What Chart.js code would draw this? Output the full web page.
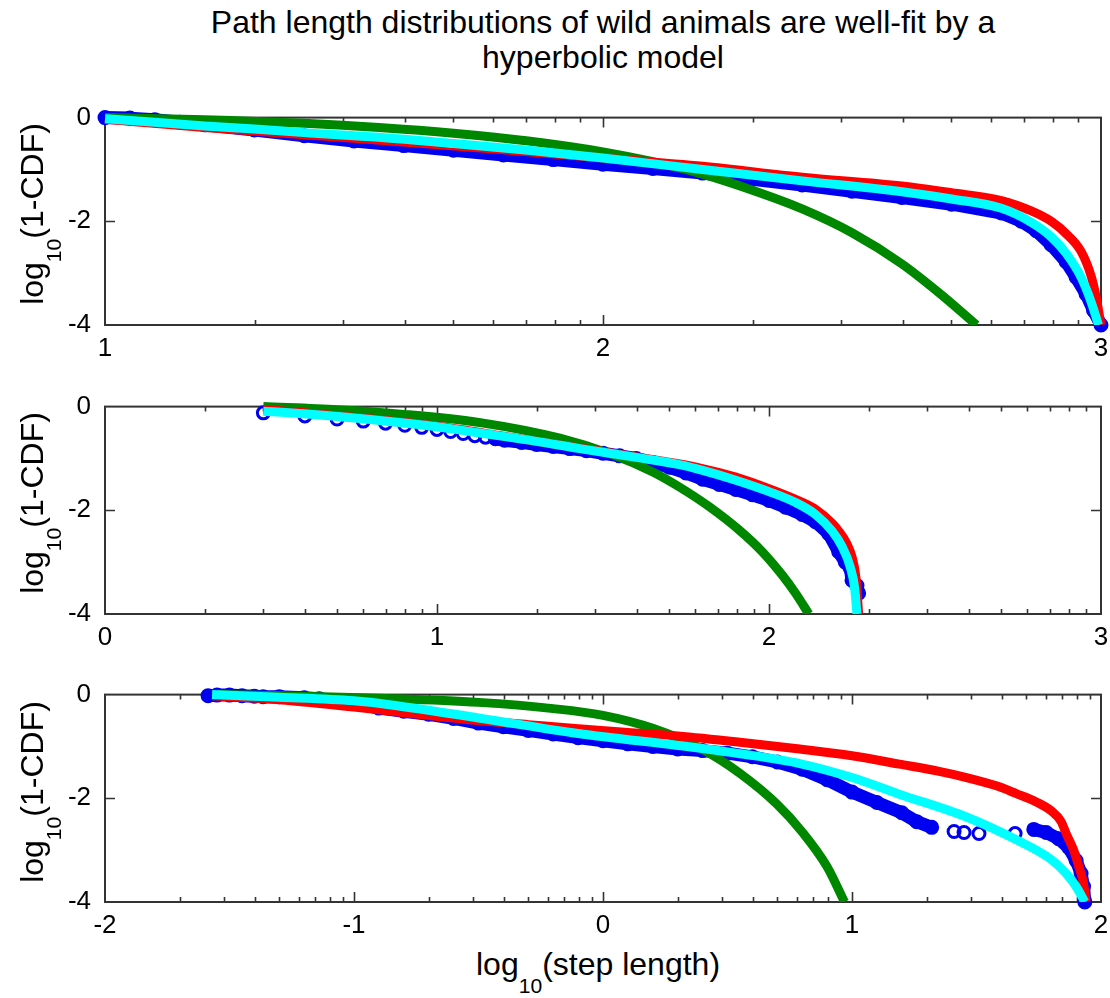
<!DOCTYPE html>
<html>
<head>
<meta charset="utf-8">
<script src="https://cdn.jsdelivr.net/npm/chart.js@4.4.1/dist/chart.umd.min.js"></script>
<style>
  body { margin: 0; background: #fff; font-family: "Liberation Sans", Arial, Helvetica, sans-serif; color: #000; }
  #page { position: relative; width: 1110px; height: 998px; overflow: hidden; }
  canvas { position: absolute; left: 0; }
  .title { position: absolute; left: 105px; width: 996px; top: 5px; text-align: center; font-size: 32px; line-height: 35px; }
  .ylab { position: absolute; white-space: nowrap; font-size: 32px; line-height: 36px; transform: translate(-50%, -50%) rotate(-90deg); }
  .xlab { position: absolute; white-space: nowrap; font-size: 32px; line-height: 36px; transform: translateX(-50%); }
  sub { font-size: 0.66em; vertical-align: baseline; position: relative; top: 0.85em; line-height: 0; }
</style>
</head>
<body>
<div id="page">
  <div class="title">Path length distributions of wild animals are well-fit by a<br>hyperbolic model</div>
  <canvas id="c1" width="1110" height="264" style="top:96px"></canvas>
  <canvas id="c2" width="1110" height="264" style="top:385px"></canvas>
  <canvas id="c3" width="1110" height="264" style="top:673px"></canvas>
  <div class="ylab" style="left:32px; top:214px">log<sub>10</sub>(1-CDF)</div>
  <div class="ylab" style="left:32px; top:503px">log<sub>10</sub>(1-CDF)</div>
  <div class="ylab" style="left:32px; top:792px">log<sub>10</sub>(1-CDF)</div>
  <div class="xlab" style="left:598px; top:946px">log<sub>10</sub>(step length)</div>
</div>
<script>
// y axis is the same for all three panels
const yTicks = [0, -2, -4];

// --- panel 1 ---
const p1XTicks = [1, 2, 3];
const p1DataX = [1.00, 1.05, 1.10, 1.15, 1.20, 1.30, 1.40, 1.50, 1.60, 1.70, 1.80, 1.90, 2.00, 2.10, 2.20, 2.30, 2.40, 2.50, 2.60, 2.70, 2.80, 2.84, 2.87, 2.90, 2.93, 2.95, 2.97, 2.985, 3.00];
const p1DataY = [0.00, -0.01, -0.04, -0.09, -0.14, -0.24, -0.35, -0.45, -0.54, -0.63, -0.72, -0.81, -0.90, -0.98, -1.07, -1.19, -1.30, -1.42, -1.54, -1.67, -1.84, -2.00, -2.18, -2.45, -2.78, -3.08, -3.40, -3.72, -4.00];
const p1PowX = [1.00, 1.20, 1.40, 1.60, 1.80, 2.00, 2.20, 2.40, 2.60, 2.70, 2.80, 2.86, 2.90, 2.93, 2.96, 2.98, 2.99, 3.00];
const p1PowY = [-0.03, -0.19, -0.33, -0.47, -0.62, -0.78, -0.94, -1.15, -1.32, -1.45, -1.60, -1.80, -2.00, -2.24, -2.58, -3.05, -3.45, -4.00];
const p1ExpX = [1.00, 1.20, 1.40, 1.55, 1.70, 1.85, 2.00, 2.10, 2.20, 2.30, 2.40, 2.50, 2.60, 2.68, 2.75];
const p1ExpY = [0.00, -0.04, -0.11, -0.19, -0.30, -0.45, -0.66, -0.85, -1.09, -1.40, -1.76, -2.22, -2.82, -3.42, -4.00];
const p1HypX = [1.00, 1.10, 1.20, 1.30, 1.40, 1.55, 1.70, 1.85, 2.00, 2.20, 2.40, 2.60, 2.70, 2.80, 2.86, 2.90, 2.93, 2.96, 2.98, 2.995];
const p1HypY = [-0.02, -0.09, -0.16, -0.22, -0.29, -0.38, -0.50, -0.63, -0.78, -1.00, -1.22, -1.43, -1.57, -1.75, -2.02, -2.30, -2.62, -3.08, -3.55, -4.00];
const p1Sparse = null;

// --- panel 2 ---
const p2XTicks = [0, 1, 2, 3];
const p2DataX = [0.477, 0.602, 0.699, 0.778, 0.845, 0.903, 0.954, 1.000, 1.041, 1.079, 1.114, 1.146, 1.176, 1.204, 1.255, 1.30, 1.35, 1.40, 1.45, 1.50, 1.55, 1.60, 1.65, 1.70, 1.75, 1.80, 1.85, 1.90, 1.95, 2.00, 2.05, 2.10, 2.14, 2.18, 2.21, 2.23, 2.245, 2.25, 2.265, 2.27];
const p2DataY = [-0.12, -0.18, -0.24, -0.28, -0.32, -0.36, -0.40, -0.44, -0.48, -0.52, -0.56, -0.59, -0.62, -0.65, -0.69, -0.73, -0.77, -0.81, -0.85, -0.90, -0.95, -1.00, -1.08, -1.17, -1.28, -1.40, -1.50, -1.60, -1.70, -1.81, -1.94, -2.08, -2.22, -2.45, -2.80, -3.00, -3.12, -3.35, -3.45, -3.60];
const p2PowX = [0.477, 0.60, 0.80, 1.00, 1.20, 1.43, 1.60, 1.79, 1.90, 1.99, 2.08, 2.14, 2.19, 2.21, 2.235, 2.25, 2.262, 2.27];
const p2PowY = [-0.05, -0.12, -0.24, -0.38, -0.57, -0.80, -0.97, -1.18, -1.36, -1.56, -1.79, -1.98, -2.25, -2.40, -2.65, -2.90, -3.30, -4.00];
const p2ExpX = [0.477, 0.70, 0.90, 1.13, 1.37, 1.53, 1.65, 1.73, 1.82, 1.91, 1.98, 2.04, 2.08, 2.12];
const p2ExpY = [0.00, -0.06, -0.15, -0.31, -0.61, -0.93, -1.26, -1.55, -1.93, -2.38, -2.80, -3.25, -3.60, -4.00];
const p2HypX = [0.477, 0.60, 0.80, 1.00, 1.13, 1.30, 1.43, 1.60, 1.73, 1.80, 1.90, 2.00, 2.08, 2.14, 2.19, 2.22, 2.245, 2.258, 2.265];
const p2HypY = [-0.09, -0.14, -0.25, -0.39, -0.51, -0.67, -0.81, -0.98, -1.12, -1.23, -1.42, -1.64, -1.85, -2.08, -2.40, -2.70, -3.10, -3.50, -4.00];
const p2Sparse = [0.4, 1.19];

// --- panel 3 ---
const p3XTicks = [-2, -1, 0, 1, 2];
const p3DataX = [-1.586, -1.55, -1.50, -1.45, -1.40, -1.365, -1.30, -1.20, -1.14, -1.00, -0.90, -0.80, -0.70, -0.60, -0.50, -0.40, -0.30, -0.20, -0.10, 0.00, 0.10, 0.20, 0.30, 0.40, 0.50, 0.60, 0.70, 0.80, 0.90, 1.00, 1.10, 1.20, 1.26, 1.32, 1.41, 1.45, 1.51, 1.655, 1.73, 1.78, 1.83, 1.87, 1.90, 1.92, 1.93, 1.935];
const p3DataY = [-0.02, -0.01, -0.01, -0.02, -0.03, -0.04, -0.04, -0.06, -0.08, -0.16, -0.26, -0.32, -0.38, -0.46, -0.55, -0.62, -0.69, -0.76, -0.83, -0.89, -0.95, -1.00, -1.05, -1.08, -1.13, -1.20, -1.30, -1.44, -1.64, -1.88, -2.08, -2.28, -2.45, -2.56, -2.64, -2.66, -2.68, -2.68, -2.60, -2.66, -2.78, -2.95, -3.20, -3.45, -3.70, -4.00];
const p3PowX = [-1.57, -1.30, -1.00, -0.80, -0.50, -0.30, -0.10, 0.10, 0.30, 0.55, 0.79, 1.00, 1.19, 1.35, 1.46, 1.58, 1.66, 1.74, 1.80, 1.84, 1.86, 1.89, 1.91, 1.93, 1.94];
const p3PowY = [-0.02, -0.10, -0.24, -0.35, -0.50, -0.58, -0.66, -0.73, -0.80, -0.92, -1.05, -1.18, -1.34, -1.48, -1.60, -1.76, -1.91, -2.07, -2.24, -2.45, -2.68, -3.00, -3.30, -3.65, -4.00];
const p3ExpX = [-1.55, -1.20, -0.90, -0.50, -0.20, 0.00, 0.20, 0.40, 0.55, 0.70, 0.80, 0.90, 0.97];
const p3ExpY = [0.00, -0.03, -0.07, -0.15, -0.27, -0.40, -0.65, -1.06, -1.52, -2.12, -2.65, -3.32, -4.00];
const p3HypX = [-1.57, -1.30, -1.00, -0.85, -0.50, -0.10, 0.30, 0.40, 0.55, 0.79, 1.00, 1.19, 1.46, 1.66, 1.80, 1.86, 1.90, 1.935];
const p3HypY = [0.00, -0.05, -0.12, -0.20, -0.45, -0.75, -0.98, -1.04, -1.14, -1.33, -1.60, -1.92, -2.36, -2.80, -3.18, -3.45, -3.70, -4.00];
const p3Sparse = [1.3, 1.75];

const BLUE = 'rgb(0, 0, 240)';
const RED = 'rgb(255, 0, 0)';
const GREEN = 'rgb(0, 135, 0)';
const CYAN = 'rgb(0, 255, 255)';

Chart.defaults.font.family = '"Liberation Sans", Arial, Helvetica, sans-serif';
Chart.defaults.color = '#000';

function pts(xs, ys) {
  return xs.map((x, i) => ({ x: x, y: ys[i] }));
}

// matlab style box with inward ticks, minor ticks at log positions inside each decade
const boxTicks = {
  id: 'boxTicks',
  beforeDatasetsDraw(chart) {
    const { ctx, chartArea: a, scales } = chart;
    const xs = scales.x, ys = scales.y;
    const xt = chart.options.plugins.boxTicks.xTicks;
    ctx.save();
    ctx.strokeStyle = '#333';
    ctx.lineWidth = 1.6;
    ctx.beginPath();
    function vtick(v, len) {
      const px = Math.round(xs.getPixelForValue(v)) + 0.5;
      ctx.moveTo(px, a.bottom); ctx.lineTo(px, a.bottom - len);
      ctx.moveTo(px, a.top); ctx.lineTo(px, a.top + len);
    }
    for (let i = 0; i < xt.length - 1; i++) {
      if (i > 0) vtick(xt[i], 10);
      for (let k = 2; k <= 9; k++) vtick(xt[i] + Math.log10(k), 5);
    }
    yTicks.forEach(v => {
      if (v === 0 || v === -4) return;
      const py = Math.round(ys.getPixelForValue(v)) + 0.5;
      ctx.moveTo(a.left, py); ctx.lineTo(a.left + 10, py);
      ctx.moveTo(a.right, py); ctx.lineTo(a.right - 10, py);
    });
    ctx.stroke();
    ctx.lineWidth = 2;
    ctx.strokeRect(a.left, a.top, a.right - a.left, a.bottom - a.top);
    ctx.restore();
  }
};

function makePanel(id, xTicks, dataX, dataY, sparse, powX, powY, expX, expY, hypX, hypY) {
  const lineClip = { left: 8, top: 8, right: 8, bottom: 0 };
  new Chart(document.getElementById(id), {
    type: 'line',
    data: {
      datasets: [
        {
          label: 'data',
          data: pts(dataX, dataY),
          borderColor: BLUE,
          borderWidth: 13,
          borderCapStyle: 'round',
          borderJoinStyle: 'round',
          pointStyle: 'circle',
          pointRadius: 6,
          pointBorderWidth: 3,
          pointBorderColor: BLUE,
          pointBackgroundColor: 'rgba(255,255,255,0)',
          tension: 0,
          clip: false,
          order: 4,
          segment: {
            borderColor: c => {
              if (!sparse) return BLUE;
              const x0 = dataX[c.p0DataIndex], x1 = dataX[c.p1DataIndex];
              return (x0 >= sparse[0] && x1 <= sparse[1]) ? 'rgba(0,0,0,0)' : BLUE;
            }
          }
        },
        { label: 'exponential', data: pts(expX, expY), borderColor: GREEN, borderWidth: 9, pointRadius: 0, cubicInterpolationMode: 'monotone', clip: lineClip, order: 3 },
        { label: 'power law', data: pts(powX, powY), borderColor: RED, borderWidth: 9, pointRadius: 0, cubicInterpolationMode: 'monotone', clip: lineClip, order: 2 },
        { label: 'hyperbolic', data: pts(hypX, hypY), borderColor: CYAN, borderWidth: 9, pointRadius: 0, cubicInterpolationMode: 'monotone', clip: lineClip, order: 1 }
      ]
    },
    options: {
      responsive: false,
      animation: false,
      events: [],
      layout: { padding: { top: 20, right: 9, left: 0, bottom: 0 } },
      plugins: {
        legend: { display: false },
        tooltip: { enabled: false },
        boxTicks: { xTicks: xTicks }
      },
      scales: {
        x: {
          type: 'linear',
          min: xTicks[0],
          max: xTicks[xTicks.length - 1],
          afterBuildTicks: s => { s.ticks = xTicks.map(v => ({ value: v })); },
          afterFit: s => { s.height = 35; },
          grid: { display: false },
          border: { display: false },
          ticks: { font: { size: 26 }, padding: 0, maxRotation: 0, autoSkip: false, callback: v => String(v) }
        },
        y: {
          type: 'linear',
          min: -4,
          max: 0,
          afterBuildTicks: s => { s.ticks = yTicks.map(v => ({ value: v })); },
          afterFit: s => { s.width = 105; },
          grid: { display: false },
          border: { display: false },
          ticks: { font: { size: 26 }, padding: 6, callback: v => String(v) }
        }
      }
    },
    plugins: [boxTicks]
  });
}

makePanel('c1', p1XTicks, p1DataX, p1DataY, p1Sparse, p1PowX, p1PowY, p1ExpX, p1ExpY, p1HypX, p1HypY);
makePanel('c2', p2XTicks, p2DataX, p2DataY, p2Sparse, p2PowX, p2PowY, p2ExpX, p2ExpY, p2HypX, p2HypY);
makePanel('c3', p3XTicks, p3DataX, p3DataY, p3Sparse, p3PowX, p3PowY, p3ExpX, p3ExpY, p3HypX, p3HypY);
</script>
</body>
</html>
